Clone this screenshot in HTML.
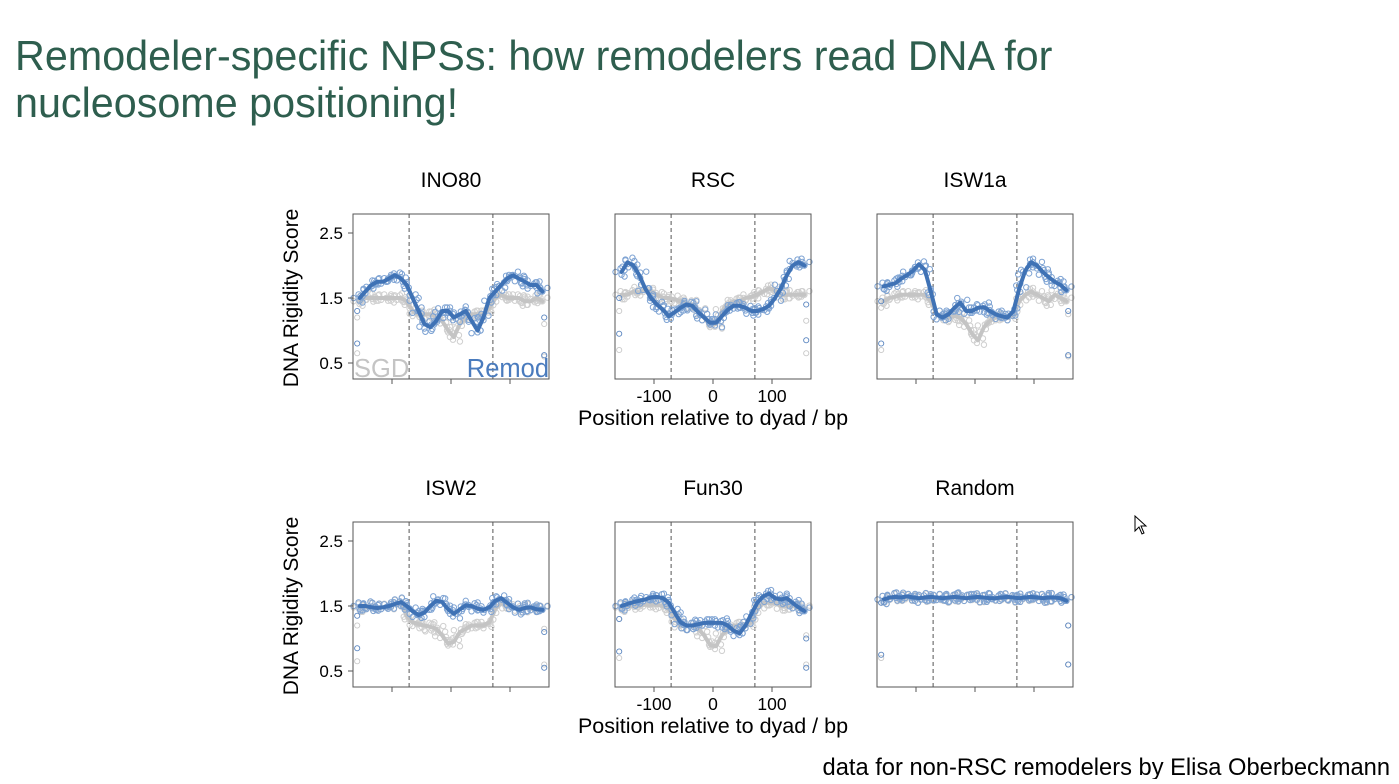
<!DOCTYPE html>
<html><head><meta charset="utf-8">
<style>
html,body{margin:0;padding:0;background:#fff;}
body{width:1399px;height:779px;overflow:hidden;font-family:"Liberation Sans",Arial,sans-serif;}
</style></head>
<body>
<svg id="fig" width="1399" height="779" viewBox="0 0 1399 779" xmlns="http://www.w3.org/2000/svg" font-family="Liberation Sans, Arial, sans-serif">
<text x="15" y="70" font-size="41.3" fill="#2e5e4e">Remodeler-specific NPSs: how remodelers read DNA for</text>
<text x="15" y="117" font-size="41.3" fill="#2e5e4e">nucleosome positioning!</text>
<text x="1390" y="775" font-size="23.7" text-anchor="end" fill="#000">data for non-RSC remodelers by Elisa Oberbeckmann</text>
<path d="M1135 516 L1135 531 L1139 527 L1142 534 L1144 533 L1141 526 L1146 526 Z" fill="#fff" stroke="#000" stroke-width="1"/>
<g id="panels"></g>
</svg>
<script>
const positions = [-155,-145,-135,-125,-115,-105,-95,-85,-75,-65,-55,-45,-35,-25,-15,-5,5,15,25,35,45,55,65,75,85,95,105,115,125,135,145,155];
const panelNames = ["INO80","RSC","ISW1a","ISW2","Fun30","Random"];
const xTicks = [-100,0,100];
const yTicks = [2.5,1.5,0.5];
const yTickLabels = ["2.5","1.5","0.5"];
const xTickLabels = ["-100","0","100"];
const dyadLines = [-71,71];

const remodINO80 = [1.5,1.6,1.7,1.75,1.75,1.8,1.85,1.8,1.7,1.5,1.3,1.1,1.05,1.15,1.3,1.3,1.2,1.25,1.3,1.15,1.0,1.2,1.5,1.6,1.7,1.8,1.85,1.8,1.75,1.7,1.7,1.6];
const sgdINO80 = [1.45,1.5,1.5,1.5,1.5,1.5,1.5,1.5,1.45,1.3,1.25,1.25,1.25,1.2,1.15,1.0,0.9,1.1,1.2,1.25,1.25,1.25,1.35,1.5,1.55,1.5,1.5,1.5,1.45,1.45,1.5,1.45];
const remodRSC = [1.9,2.05,2.0,1.85,1.65,1.5,1.4,1.32,1.22,1.28,1.35,1.4,1.38,1.28,1.2,1.12,1.12,1.22,1.32,1.38,1.38,1.35,1.3,1.3,1.33,1.38,1.5,1.65,1.85,2.0,2.05,2.0];
const sgdRSC = [1.55,1.55,1.6,1.58,1.62,1.6,1.55,1.5,1.5,1.48,1.45,1.42,1.4,1.3,1.2,1.08,1.1,1.3,1.4,1.45,1.45,1.5,1.52,1.55,1.6,1.65,1.62,1.55,1.55,1.55,1.55,1.55];
const remodISW1a = [1.68,1.7,1.73,1.8,1.85,1.92,2.02,1.93,1.6,1.25,1.2,1.25,1.35,1.43,1.3,1.3,1.35,1.36,1.3,1.25,1.22,1.2,1.3,1.65,1.92,2.05,2.0,1.9,1.82,1.75,1.7,1.62];
const sgdISW1a = [1.45,1.5,1.52,1.55,1.55,1.55,1.55,1.55,1.45,1.25,1.2,1.2,1.22,1.2,1.1,0.95,0.85,1.05,1.15,1.2,1.2,1.2,1.25,1.45,1.55,1.6,1.55,1.5,1.45,1.55,1.5,1.45];
const remodISW2 = [1.5,1.5,1.48,1.47,1.48,1.5,1.53,1.56,1.5,1.42,1.36,1.4,1.5,1.58,1.56,1.45,1.38,1.45,1.51,1.5,1.46,1.44,1.48,1.58,1.62,1.55,1.48,1.44,1.47,1.48,1.45,1.44];
const sgdISW2 = [1.48,1.48,1.48,1.48,1.48,1.5,1.52,1.55,1.35,1.25,1.22,1.2,1.18,1.15,1.05,0.92,0.95,1.1,1.15,1.2,1.2,1.2,1.25,1.45,1.55,1.5,1.48,1.47,1.47,1.46,1.45,1.45];
const remodFun30 = [1.5,1.53,1.56,1.58,1.6,1.63,1.64,1.62,1.55,1.4,1.25,1.2,1.2,1.22,1.24,1.24,1.24,1.24,1.2,1.12,1.08,1.2,1.38,1.55,1.65,1.69,1.62,1.6,1.62,1.55,1.48,1.42];
const sgdFun30 = [1.48,1.5,1.5,1.5,1.52,1.52,1.52,1.5,1.45,1.3,1.2,1.2,1.2,1.15,1.05,0.9,0.88,1.05,1.15,1.2,1.2,1.2,1.25,1.45,1.55,1.55,1.55,1.5,1.5,1.5,1.48,1.45];
const remodRandom = [1.6,1.63,1.64,1.63,1.65,1.63,1.62,1.63,1.64,1.63,1.62,1.63,1.64,1.63,1.62,1.63,1.64,1.63,1.62,1.62,1.63,1.64,1.63,1.62,1.63,1.64,1.63,1.62,1.63,1.63,1.62,1.58];
const sgdRandom = [1.6,1.62,1.63,1.62,1.63,1.62,1.62,1.62,1.63,1.62,1.62,1.62,1.63,1.62,1.62,1.62,1.63,1.62,1.62,1.62,1.62,1.63,1.62,1.62,1.62,1.63,1.62,1.62,1.62,1.62,1.62,1.58];
const edgeLeftRemod = [[0.8,1.3],[0.95,1.5],[0.8,1.45],[0.85,1.35],[0.8,1.3],[0.75,1.55]];
const edgeLeftSgd = [[0.65,1.2],[0.7,1.3],[0.7,1.35],[0.65,1.2],[0.7,1.3],[0.7,1.55]];
const edgeRightRemod = [[0.62,1.2],[0.85,1.4],[0.62,1.3],[0.55,1.1],[0.55,1.0],[0.6,1.2]];
const edgeRightSgd = [[0.6,1.1],[0.65,1.15],[0.6,1.25],[0.6,1.15],[0.6,1.05],[0.6,1.2]];

const remodSeries = [remodINO80,remodRSC,remodISW1a,remodISW2,remodFun30,remodRandom];
const sgdSeries = [sgdINO80,sgdRSC,sgdISW1a,sgdISW2,sgdFun30,sgdRandom];

const NS = "http://www.w3.org/2000/svg";
const root = document.getElementById("panels");
const colLeft = [353,615,877];
const rowTop = [214,522];
const boxW = 196, boxH = 165;
const jit = [0,-4,3,-2,5,-3,2,-5,4,-1,1,-3,3,-4,2,0];
const jitX = [-2,2,-1,1,-3,3,0,-2,2,1];

function mk(tag, attrs, parent){const e=document.createElementNS(NS,tag);for(const k in attrs)e.setAttribute(k,attrs[k]);parent.appendChild(e);return e;}

panelNames.forEach((name,i)=>{
  const col=i%3,row=Math.floor(i/3);
  const x0=colLeft[col], y0=rowTop[row];
  const cx = x0+boxW/2;
  const xs = v=> cx + v*0.59;
  const y15 = y0+84;
  const ys = v=> y15 - (v-1.5)*65;
  const g = mk("g",{},root);
  
  
  const t = mk("text",{x:cx,y:y0-27,"font-size":"21","text-anchor":"middle",fill:"#000"},g);
  t.textContent=name;
  
  
  dyadLines.forEach(d=>{
    const l=mk("line",{x1:xs(d),x2:xs(d),y1:y0,y2:y0+boxH,stroke:"#555","stroke-width":"1","stroke-dasharray":"4,3"},g);
    
    
  });
  function scatter(arr,color,sw){
    arr.forEach((v,j)=>{
      for(let k=0;k<5;k++){
        const c=mk("circle",{cx:xs(positions[j])+jitX[(j+k*3)%10]+(k-2)*2,cy:ys(v)+jit[(j*3+k)%16]*0.9,r:2.7,fill:"none",stroke:color,"stroke-width":sw},g);
        
        
      }
    });
  }
  function line(arr,color,w){
    const d=arr.map((v,j)=>(j?"L":"M")+xs(positions[j]).toFixed(1)+" "+ys(v).toFixed(1)).join(" ");
    return mk("path",{d:d,fill:"none",stroke:color,"stroke-width":w,"stroke-linejoin":"round","stroke-linecap":"round"},g);
  }
  scatter(sgdSeries[i],"#cfcfcf","1");
  const ps=line(sgdSeries[i],"#c4c4c4",4);
  
  
  scatter(remodSeries[i],"#7ea3d3","1");
  const pr=line(remodSeries[i],"#3f72b5",4);
  
  
  [[edgeLeftSgd[i],-159,"#c8c8c8"],[edgeRightSgd[i],158,"#c8c8c8"],[edgeLeftRemod[i],-159,"#5b86c0"],[edgeRightRemod[i],158,"#5b86c0"]].forEach(([vals,px,colr])=>{
    vals.forEach(v=>{
      const c=mk("circle",{cx:xs(px),cy:ys(v),r:2.6,fill:"none",stroke:colr,"stroke-width":"0.9"},g);
      
      
    });
  });
  const box=mk("rect",{x:x0,y:y0,width:boxW,height:boxH,fill:"none",stroke:"#555","stroke-width":"1"},g);
  
  
  xTicks.forEach((v,k)=>{
    const tk=mk("line",{x1:xs(v),x2:xs(v),y1:y0+boxH,y2:y0+boxH+5,stroke:"#555","stroke-width":"1"},g);
    
    
    if(col===1){
      const tl=mk("text",{x:xs(v),y:y0+boxH+23,"font-size":"17.5","text-anchor":"middle",fill:"#000"},g);
      tl.textContent=xTickLabels[k];
      
      
    }
  });
  if(col===1){
    const xl=mk("text",{x:cx,y:y0+boxH+46,"font-size":"21.5","text-anchor":"middle",fill:"#000"},g);
    xl.textContent="Position relative to dyad / bp";
    
    
  }
  if(col===0){
    yTicks.forEach((v,k)=>{
      const tk=mk("line",{x1:x0-5,x2:x0,y1:ys(v),y2:ys(v),stroke:"#555","stroke-width":"1"},g);
      
      
      const tl=mk("text",{x:x0-10,y:ys(v)+6,"font-size":"17","text-anchor":"end",fill:"#000"},g);
      tl.textContent=yTickLabels[k];
      
      
    });
    const yl=mk("text",{x:0,y:0,"font-size":"21","text-anchor":"middle",fill:"#000",transform:"translate(298,"+(y0+84)+") rotate(-90)"},g);
    yl.textContent="DNA Rigidity Score";
    
    
  }
  if(i===0){
    const a=mk("text",{x:x0+1,y:y0+163,"font-size":"25.5","fill":"#c4c4c4"},g);
    a.textContent="SGD";
    
    
    const b=mk("text",{x:x0+boxW,y:y0+163,"font-size":"25.5","text-anchor":"end",fill:"#4a7bbd"},g);
    b.textContent="Remod";
    
    
  }
});
</script>
</body></html>
